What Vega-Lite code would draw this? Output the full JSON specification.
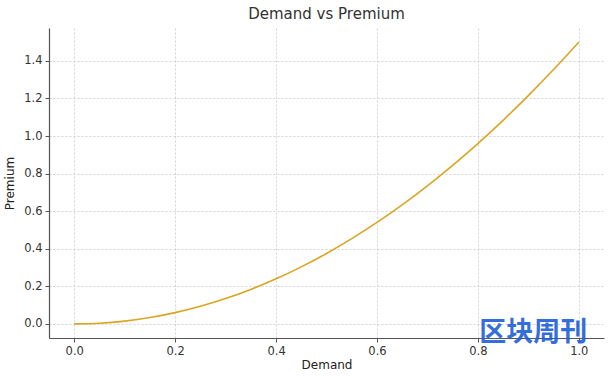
{
  "$schema": "https://vega.github.io/schema/vega-lite/v6.json",
  "width": 555,
  "height": 310,
  "autosize": "none",
  "padding": {"left": 49, "top": 28, "right": 8, "bottom": 42},
  "background": "white",
  "title": {"text": "Demand vs Premium", "fontSize": 15, "font": "DejaVu Sans", "fontWeight": "normal", "color": "#333333", "offset": 6},
  "config": {
    "view": {"stroke": null},
    "axis": {
      "labelFont": "DejaVu Sans", "titleFont": "DejaVu Sans",
      "labelFontSize": 11.5, "titleFontSize": 12, "titleFontWeight": "normal",
      "labelColor": "#333333", "titleColor": "#222222",
      "domainColor": "#555555", "domainWidth": 1.2,
      "tickColor": "#555555", "tickSize": 4,
      "gridColor": "#c8c8c8", "gridDash": [2, 2], "gridWidth": 0.8
    }
  },
  "layer": [
    {
      "data": {"values": [
        {"Demand": 0.0, "Premium": 0.0},
        {"Demand": 0.05, "Premium": 0.00375},
        {"Demand": 0.1, "Premium": 0.015},
        {"Demand": 0.15, "Premium": 0.03375},
        {"Demand": 0.2, "Premium": 0.06},
        {"Demand": 0.25, "Premium": 0.09375},
        {"Demand": 0.3, "Premium": 0.135},
        {"Demand": 0.35, "Premium": 0.18375},
        {"Demand": 0.4, "Premium": 0.24},
        {"Demand": 0.45, "Premium": 0.30375},
        {"Demand": 0.5, "Premium": 0.375},
        {"Demand": 0.55, "Premium": 0.45375},
        {"Demand": 0.6, "Premium": 0.54},
        {"Demand": 0.65, "Premium": 0.63375},
        {"Demand": 0.7, "Premium": 0.735},
        {"Demand": 0.75, "Premium": 0.84375},
        {"Demand": 0.8, "Premium": 0.96},
        {"Demand": 0.85, "Premium": 1.08375},
        {"Demand": 0.9, "Premium": 1.215},
        {"Demand": 0.95, "Premium": 1.35375},
        {"Demand": 1.0, "Premium": 1.5}
      ]},
      "mark": {"type": "line", "color": "#DAA520", "strokeWidth": 1.6, "interpolate": "monotone"},
      "encoding": {
        "x": {"field": "Demand", "type": "quantitative",
          "scale": {"domain": [-0.05, 1.05], "nice": false, "zero": false},
          "axis": {"values": [0, 0.2, 0.4, 0.6, 0.8, 1.0], "format": ".1f", "title": "Demand", "titlePadding": 3, "labelPadding": 3}},
        "y": {"field": "Premium", "type": "quantitative",
          "scale": {"domain": [-0.075, 1.575], "nice": false, "zero": false},
          "axis": {"values": [0, 0.2, 0.4, 0.6, 0.8, 1.0, 1.2, 1.4], "format": ".1f", "title": "Premium", "titlePadding": 7, "labelPadding": 3}}
      }
    },
    {
      "data": {"values": [{"x": 0.91, "y": -0.05, "label": "区块周刊"}]},
      "mark": {"type": "text", "font": "Noto Sans CJK SC", "fontSize": 27, "fontWeight": "bold", "color": "#1F5FD8", "opacity": 0.9},
      "encoding": {
        "x": {"field": "x", "type": "quantitative"},
        "y": {"field": "y", "type": "quantitative"},
        "text": {"field": "label"}
      }
    }
  ]
}
